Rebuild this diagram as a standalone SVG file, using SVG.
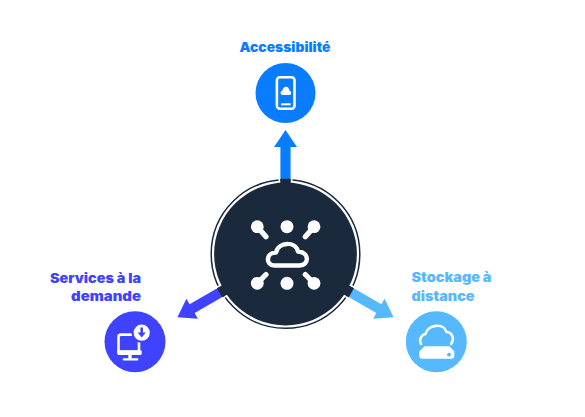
<svg xmlns="http://www.w3.org/2000/svg" width="585" height="417" viewBox="0 0 585 417">
<defs>
<path id="arrow" d="M280.4 179.5V147H274L285.5 130L297 147H290.6V179.5Z"/>
<g id="neck">
<path d="M280.2 178.8V190H290.8V178.8Z" fill="#1a2a3c"/>
<path d="M279.3 177.8V190M291.7 177.8V190" stroke="#fff" stroke-width="1.6" fill="none"/>
</g>
</defs>
<style>
.t{font-family:"Inter","Liberation Sans",sans-serif;font-weight:900;font-size:13px}
.w{fill:none;stroke:#fff;stroke-linecap:round;stroke-linejoin:round}
.k{fill:#fff}
.sp{fill:none;stroke:#fff;stroke-width:5.2;stroke-linecap:round}
</style>
<rect width="585" height="417" fill="#fff"/>
<g id="connectors">
<use href="#arrow" fill="#0a7cff"/>
<use href="#arrow" fill="#3f43ff" transform="rotate(-120 285.5 254.8)"/>
<use href="#arrow" fill="#56b8ff" transform="rotate(120 285.5 254.8)"/>
</g>
<g id="hub">
<circle cx="285.5" cy="254" r="74.3" fill="none" stroke="#1a2a3c" stroke-width="1.5"/>
<circle cx="285.5" cy="254" r="72.8" fill="#fff"/>
<use href="#neck"/>
<use href="#neck" transform="rotate(-120 285.5 254.8)"/>
<use href="#neck" transform="rotate(120 285.5 254.8)"/>
<circle cx="285.5" cy="254" r="71.4" fill="#1a2a3c"/>
<circle cx="287" cy="226.7" r="6.5" class="k"/>
<circle cx="287" cy="283.3" r="6.5" class="k"/>
<circle cx="257.3" cy="226.7" r="6.4" class="k"/>
<circle cx="314" cy="226.7" r="6.4" class="k"/>
<circle cx="257.3" cy="283.3" r="6.4" class="k"/>
<circle cx="314" cy="283.3" r="6.4" class="k"/>
<path class="sp" d="M257.3 226.7L266 236.7M314 226.7L305.3 236.7M257.3 283.3L266 274.5M314 283.3L305.3 274.5"/>
<path class="w" stroke-width="4.4" d="M274.5 265.5C265.5 265.5 265.5 252.5 276 252.5C278.5 241.5 295.5 241 298 251.5C309.5 252 309.5 265.5 299.5 265.5Z"/>
</g>
<g id="accessibilite">
<circle cx="285.5" cy="93" r="30" fill="#0a7cff"/>
<rect x="276.9" y="77.2" width="17.6" height="31.6" rx="3" class="w" stroke-width="2.6"/>
<path class="k" d="M282.5 95C280 95 280 91 282.3 90.8C283.2 85.5 289 85.5 289.5 90.8C291.8 91 291.8 95 289.5 95Z"/>
<rect x="281" y="103.3" width="9.6" height="2" class="k"/>
<text class="t" x="285" y="52" text-anchor="middle" fill="#0a7cff" textLength="91" lengthAdjust="spacingAndGlyphs">Accessibilité</text>
</g>
<g id="services">
<circle cx="135" cy="341.7" r="30.5" fill="#3f43ff"/>
<path d="M121 334.6H139V351.5H118.5V337Q118.5 334.6 121 334.6Z" fill="none" stroke="#fff" stroke-width="2.6"/>
<path d="M117.3 350.5H141.7V353.5Q141.7 355 140 355H119Q117.3 355 117.3 353.5Z" class="k"/>
<rect x="128.3" y="354.5" width="3.4" height="4.5" class="k"/>
<rect x="122.7" y="358.2" width="15.6" height="2.4" rx="1" class="k"/>
<circle cx="141.7" cy="332.7" r="9.2" fill="#fff" stroke="#3f43ff" stroke-width="2.2"/>
<path d="M140.4 327.5H143V332.5H145.8L141.7 337.5L137.6 332.5H140.4Z" fill="#3f43ff"/>
<text class="t" x="141" y="283" text-anchor="end" fill="#3f43ff" textLength="91" lengthAdjust="spacingAndGlyphs">Services à la</text>
<text class="t" x="141" y="300.5" text-anchor="end" fill="#3f43ff" textLength="70" lengthAdjust="spacingAndGlyphs">demande</text>
</g>
<g id="stockage">
<circle cx="436.3" cy="341.7" r="30.5" fill="#56b8ff"/>
<path class="w" stroke-width="2.6" d="M421 344C418.5 339 422 334.5 425.5 334C428 324 444 323 446.5 332C452 332 455 339 451 344"/>
<path class="k" d="M424.5 346.3H449.5L454.3 351.5V356Q454.3 358.7 451.5 358.7H422Q419.3 358.7 419.3 356V351.5Z"/>
<circle cx="449" cy="354.7" r="1.9" fill="#56b8ff"/>
<text class="t" x="411.5" y="282" fill="#56b8ff" textLength="80" lengthAdjust="spacingAndGlyphs">Stockage à</text>
<text class="t" x="411.5" y="300.5" fill="#56b8ff" textLength="63" lengthAdjust="spacingAndGlyphs">distance</text>
</g>
</svg>
